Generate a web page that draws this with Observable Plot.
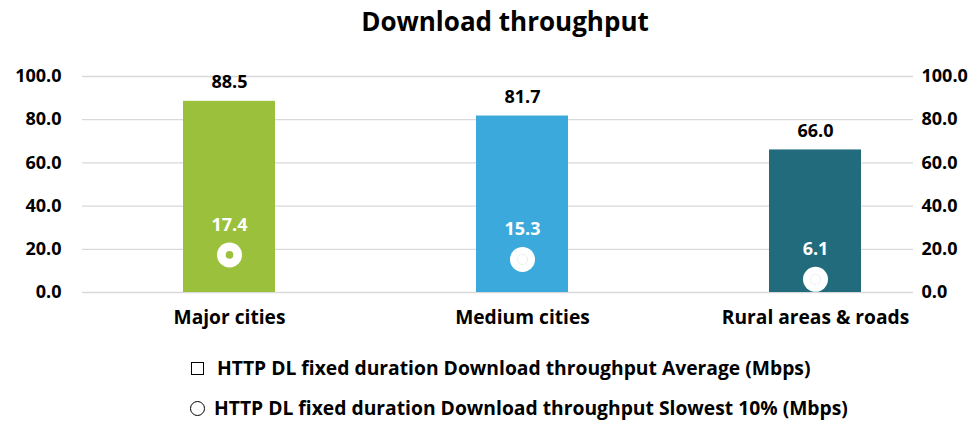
<!DOCTYPE html>
<html>
<head>
<meta charset="utf-8">
<script src="https://cdn.jsdelivr.net/npm/d3@7"></script>
<script src="https://cdn.jsdelivr.net/npm/@observablehq/plot@0.6"></script>
<style>
  body { margin: 0; background: #fff; font-family: "Open Sans", Lato, sans-serif; color: #000; }
  #title { height: 44px; line-height: 42px; text-align: center; font-weight: 700; font-size: 26px; padding-left: 38px; }
  #chart svg { display: block; }
  #legend { margin-top: 4px; padding-left: 190px; font-weight: 700; font-size: 19.3px; }
  .item { height: 40px; line-height: 40px; display: flex; align-items: center; }
  .sym { display: inline-block; box-sizing: border-box; border: 1.6px solid #000; background: #fff; }
  .sym.square { width: 13px; height: 13px; margin: 0 13px 0 1px; }
  .sym.circle { width: 15px; height: 15px; border-radius: 50%; margin: 0 9px 0 0; }
</style>
</head>
<body>
<div id="title">Download throughput</div>
<div id="chart"></div>
<div id="legend"></div>
<script>
// Download throughput per area type (Mbps)
const categories = ["Major cities", "Medium cities", "Rural areas & roads"];
const averageMbps = [88.5, 81.7, 66.0];
const slowest10Mbps = [17.4, 15.3, 6.1];
const barColors = ["#9bc13c", "#3ba9db", "#216b7d"];
const yTicks = [0, 20, 40, 60, 80, 100];
const seriesNames = [
  "HTTP DL fixed duration Download throughput Average (Mbps)",
  "HTTP DL fixed duration Download throughput Slowest 10% (Mbps)"
];

const rows = categories.map((c, i) => ({ category: c, avg: averageMbps[i], slow: slowest10Mbps[i] }));
const fmt = d => d.toFixed(1);

const chart = Plot.plot({
  width: 972,
  height: 300,
  marginTop: 32,
  marginBottom: 52,
  marginLeft: 82,
  marginRight: 59,
  style: { fontFamily: "'Open Sans', Lato, sans-serif", fontSize: "18px", fontWeight: 700, color: "#000", background: "#fff" },
  x: { domain: categories, range: [82.5, 961.5], paddingInner: 0.686, paddingOuter: 0.343, align: 0.5, axis: null },
  y: { domain: [0, 100], axis: null },
  color: { domain: categories, range: barColors },
  marks: [
    Plot.gridY(yTicks, { stroke: "#d9d9d9", strokeOpacity: 1, strokeWidth: 1.3 }),
    Plot.barY(rows, { x: "category", y: "avg", fill: "category" }),
    Plot.text(rows, { x: "category", y: "avg", text: d => fmt(d.avg), dy: -19, fill: "#000" }),
    Plot.dot(rows, { x: "category", y: "slow", r: 12.5, fill: "#fff" }),
    Plot.dot(rows.slice(0, 1), { x: "category", y: "slow", r: 3.8, fill: "category" }),
    Plot.dot(rows.slice(1), { x: "category", y: "slow", r: 5, fill: "none", stroke: "#cfd6da", strokeWidth: 0.8, strokeDasharray: "1.2,1.2" }),
    Plot.text(rows, { x: "category", y: "slow", text: d => fmt(d.slow), dy: -30, fill: "#fff" }),
    Plot.axisY(yTicks, { anchor: "left", tickSize: 0, tickPadding: 21, tickFormat: fmt, label: null }),
    Plot.axisY(yTicks, { anchor: "right", tickSize: 0, tickPadding: 8, tickFormat: fmt, label: null }),
    Plot.text(categories, { x: d => d, frameAnchor: "bottom", dy: 31, fill: "#000", fontSize: 19.2 })
  ]
});
document.getElementById("chart").appendChild(chart);

const legend = document.getElementById("legend");
seriesNames.forEach((name, i) => {
  const item = document.createElement("div");
  item.className = "item";
  const sym = document.createElement("span");
  sym.className = "sym " + (i === 0 ? "square" : "circle");
  const label = document.createElement("span");
  label.textContent = name;
  item.appendChild(sym);
  item.appendChild(label);
  legend.appendChild(item);
});
</script>
</body>
</html>
